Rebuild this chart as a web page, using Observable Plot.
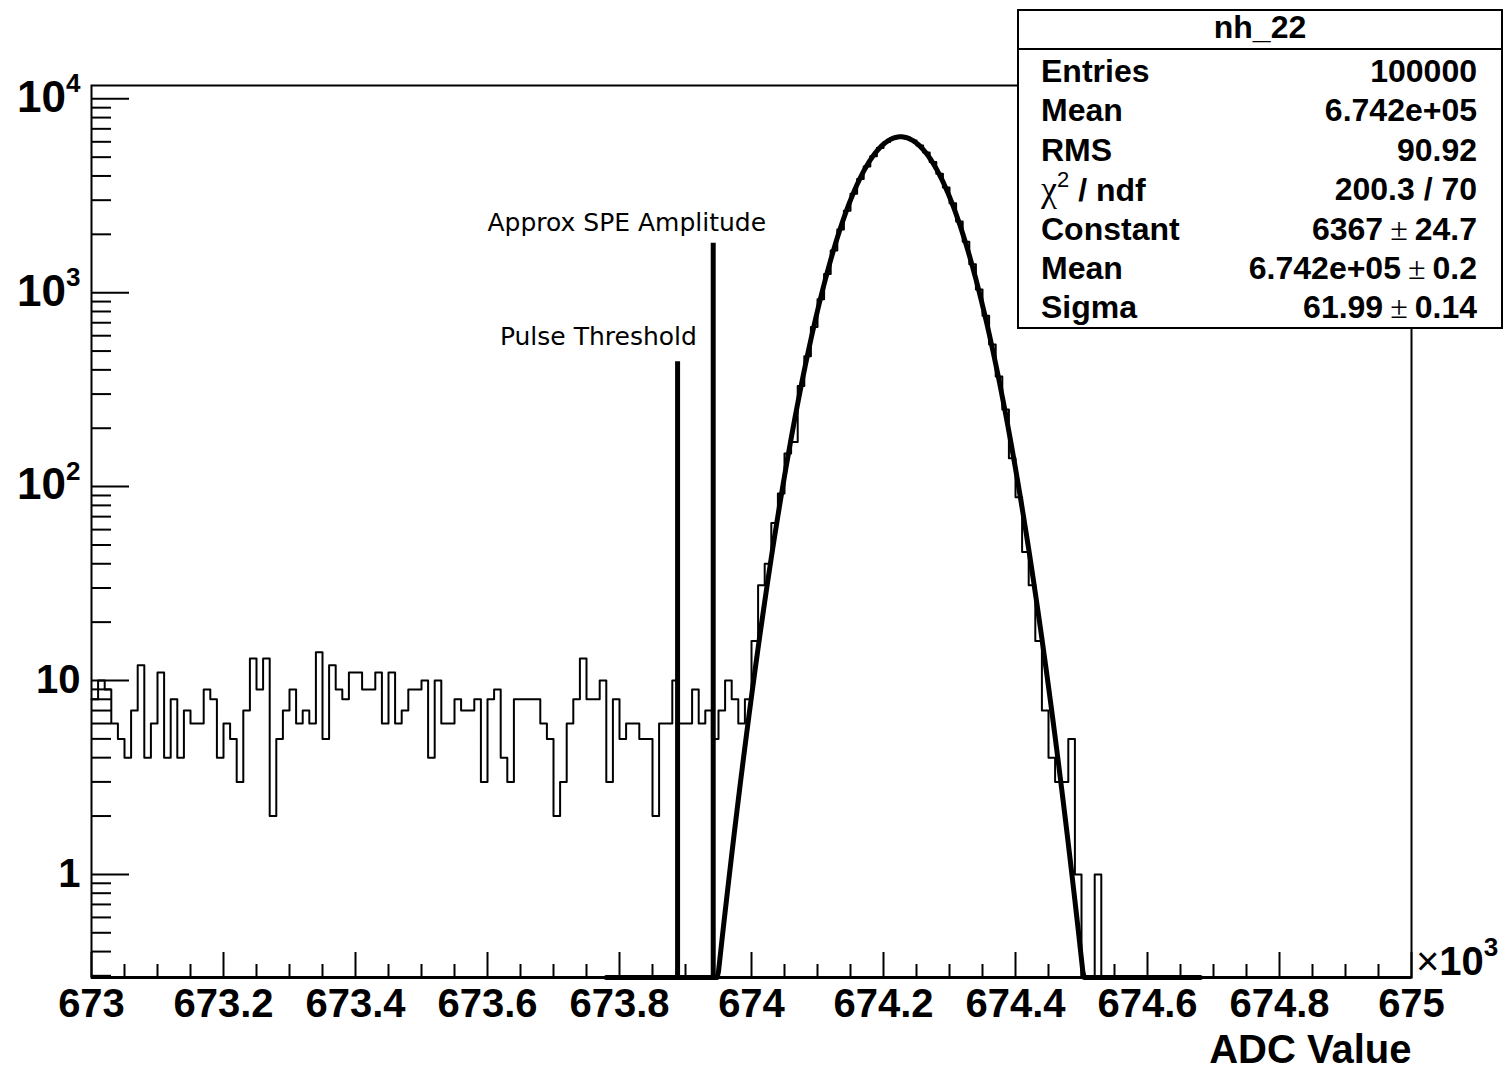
<!DOCTYPE html>
<html>
<head>
<meta charset="utf-8">
<script src="https://cdn.jsdelivr.net/npm/d3@7"></script>
<script src="https://cdn.jsdelivr.net/npm/@observablehq/plot@0.6"></script>
<style>
  body { margin: 0; background: #fff; }
  #wrap { position: relative; width: 1510px; height: 1070px; font-family: "Liberation Sans", Arial, sans-serif; }
  #stats { position: absolute; left: 1017px; top: 9px; width: 486px; height: 320px; box-sizing: border-box;
           border: 2px solid #000; background: #fff; font-weight: bold; font-size: 32px; color: #000; }
  #stats .title { position: absolute; left: 0; right: 0; top: -2px; line-height: 36px; text-align: center; }
  #stats .sep { position: absolute; left: 0; right: 0; top: 37px; height: 2px; background: #000; }
  #stats .rows { position: absolute; left: 22px; right: 24px; top: 41px; }
  #stats .row { display: flex; justify-content: space-between; height: 39.4px; line-height: 39.4px; white-space: nowrap; }
  #stats .pm { font-weight: normal; font-family: "Liberation Serif", serif; padding: 0 7px; }
  #stats .chi { font-weight: normal; font-family: "Liberation Serif", serif; font-size: 36px; }
  #stats sup { font-size: 22px; font-weight: normal; vertical-align: 0; position: relative; top: -14px; }
</style>
</head>
<body>
<div id="wrap"></div>
<script>
// ---------------- data ----------------
const binStart = 673000;   // ADC
const binWidth = 10;       // ADC
const counts = [
  8, 10, 9, 6, 5, 4, 7, 12, 4, 6,
  11, 4, 8, 4, 7, 6, 6, 9, 8, 4,
  6, 5, 3, 7, 13, 9, 13, 2, 5, 7,
  9, 6, 7, 6, 14, 5, 12, 9, 8, 11,
  11, 9, 9, 11, 6, 11, 6, 7, 9, 9,
  10, 4, 10, 6, 6, 8, 7, 7, 8, 3,
  8, 9, 4, 3, 8, 8, 8, 8, 6, 5,
  2, 3, 6, 8, 13, 8, 8, 10, 3, 8,
  5, 6, 6, 5, 5, 2, 6, 6, 10, 6,
  6, 9, 6, 7, 5, 7, 10, 8, 6, 8,
  16, 31, 40, 65, 92, 148, 170, 330, 470, 665,
  925, 1250, 1650, 2120, 2650, 3240, 3860, 4480, 5060, 5570,
  5980, 6250, 6360, 6310, 6100, 5750, 5280, 4720, 4110, 3490,
  2890, 2330, 1830, 1400, 1040, 760, 540, 370, 250, 140,
  88, 46, 31, 16, 7, 4, 3, 3, 5, 1,
  0, 0, 1, 0, 0, 0, 0, 0, 0, 0,
  0, 0, 0, 0, 0, 0, 0, 0, 0, 0,
  0, 0, 0, 0, 0, 0, 0, 0, 0, 0,
  0, 0, 0, 0, 0, 0, 0, 0, 0, 0,
  0, 0, 0, 0, 0, 0, 0, 0, 0, 0
];

// Gaussian fit (parameters as in the stats box)
const fitConstant = 6367;
const fitMean = 674226;
const fitSigma = 61.99;
const fitRange = [673780, 674680];

// vertical marker lines and their labels
const markerNames = ["Pulse Threshold", "Approx SPE Amplitude"];
const markerX = [673888, 673942];
const markerTop = [440, 1800];
const markerLabelX = [673768, 673811];
const markerLabelY = [594, 2300];

// axes
const xDomain = [673000, 675000];
const yDomain = [0.294, 11710];
const xTicks = [673000, 673200, 673400, 673600, 673800, 674000, 674200, 674400, 674600, 674800, 675000];
const xTickLabels = ["673", "673.2", "673.4", "673.6", "673.8", "674", "674.2", "674.4", "674.6", "674.8", "675"];
const yTicks = [1, 10, 100, 1000, 10000];
const yTickLabels = ["1", "10", "10^2", "10^3", "10^4"];
const xTitle = "ADC Value";
const xExponent = "3";

const statsTitle = "nh_22";
const statsNames = ["Entries", "Mean", "RMS", "CHI", "Constant", "Mean", "Sigma"];
const statsValues = ["100000", "6.742e+05", "90.92", "200.3 / 70", "6367|24.7", "6.742e+05|0.2", "61.99|0.14"];

// ---------------- derived tables ----------------
const hist = counts.map((c, i) => ({x: binStart + i * binWidth, count: c}));
hist.push({x: binStart + counts.length * binWidth, count: counts[counts.length - 1]});

const fitPts = d3.range(fitRange[0], fitRange[1] + 0.001, 2).map(x => ({
  x, y: fitConstant * Math.exp(-0.5 * ((x - fitMean) / fitSigma) ** 2)
}));

const markers = markerNames.map((name, i) => ({
  name, x: markerX[i], top: markerTop[i], lx: markerLabelX[i], ly: markerLabelY[i]
}));

const xMinor = d3.range(xDomain[0], xDomain[1] + 1, 50).filter(v => !xTicks.includes(v));
const yMinor = [];
for (const dec of [0.1, 1, 10, 100, 1000]) for (let k = 2; k <= 9; k++) {
  const v = dec * k;
  if (v >= yDomain[0] && v <= yDomain[1]) yMinor.push(v);
}

const yMin = yDomain[0];

const chart = Plot.plot({
  width: 1510,
  height: 1070,
  marginLeft: 91,
  marginRight: 99,
  marginTop: 85,
  marginBottom: 93,
  style: {fontFamily: "'Liberation Sans', Arial, sans-serif", background: "white", color: "black"},
  x: {domain: xDomain},
  y: {type: "log", domain: yDomain},
  marks: [
    Plot.line(hist, {x: "x", y: d => Math.max(d.count, yMin), curve: "step-after", stroke: "black", strokeWidth: 2}),
    Plot.line(fitPts, {x: "x", y: d => Math.max(d.y, yMin), stroke: "black", strokeWidth: 5}),
    Plot.ruleX(markers, {x: "x", y1: yMin, y2: "top", stroke: "black", strokeWidth: 5}),
    Plot.text(markers, {x: "lx", y: "ly", text: "name", fontFamily: "'DejaVu Sans', sans-serif", fontSize: 25, fill: "black"}),
    Plot.frame({stroke: "black", strokeWidth: 2}),
    Plot.axisX(xMinor, {tickSize: -13, fill: "none", label: null, strokeWidth: 2}),
    Plot.axisX(xTicks, {tickSize: -25, fill: "none", label: null, strokeWidth: 2}),
    Plot.ruleY([yMin], {stroke: "black", strokeWidth: 3}),
    Plot.axisX(xTicks, {tickSize: 0, tickPadding: 11, tickFormat: d => xTickLabels[xTicks.indexOf(d)],
                        fontSize: 40, fontWeight: "bold", label: null}),
    Plot.axisY(yMinor, {tickSize: -20, fill: "none", label: null, strokeWidth: 2}),
    Plot.axisY(yTicks, {tickSize: -38, fill: "none", label: null, strokeWidth: 2}),
    Plot.axisY(yTicks, {tickSize: 0, tickPadding: 11, tickFormat: d => yTickLabels[yTicks.indexOf(d)],
                        fontSize: 40, fontWeight: "bold", label: null}),
    Plot.text([xTitle], {text: d => d, frameAnchor: "bottom-right", textAnchor: "end", lineAnchor: "bottom",
                         dy: 85, fontSize: 40, fontWeight: "bold", fill: "black"})
  ]
});

document.getElementById("wrap").appendChild(chart);

// superscripts on y labels
const svg = d3.select(chart);
svg.selectAll("text").each(function() {
  const el = d3.select(this);
  const s = el.text();
  if (/^10\^\d$/.test(s)) {
    const [base, exp] = s.split("^");
    el.text("");
    el.append("tspan").attr("font-size", 44).text(base);
    el.append("tspan").attr("font-size", 26).attr("dy", "-0.75em").text(exp);
  }
});

// x10^3 multiplier
const xs = chart.scale("x");
const ys = chart.scale("y");
const mx = xs.apply(xDomain[1]) + 5;
const my = ys.apply(yDomain[0]) - 2;
const mt = svg.append("text").attr("x", mx).attr("y", my).attr("font-size", 40).attr("fill", "black")
  .attr("text-anchor", "start")
  .attr("font-family", "'Liberation Sans', Arial, sans-serif");
mt.append("tspan").attr("font-weight", "normal").text("×");
mt.append("tspan").attr("font-weight", "bold").text("10");
mt.append("tspan").attr("font-weight", "bold").attr("font-size", 26).attr("dy", -19).text(xExponent);

// stats box
const box = document.createElement("div");
box.id = "stats";
let html = `<div class="title">${statsTitle}</div><div class="sep"></div><div class="rows">`;
statsNames.forEach((n, i) => {
  const name = n === "CHI" ? `<span><span class="chi">χ</span><sup>2</sup> / ndf</span>` : `<span>${n}</span>`;
  const parts = statsValues[i].split("|");
  const val = parts.length === 2 ? `<span>${parts[0]}<span class="pm">±</span>${parts[1]}</span>` : `<span>${parts[0]}</span>`;
  html += `<div class="row">${name}${val}</div>`;
});
html += `</div>`;
box.innerHTML = html;
document.getElementById("wrap").appendChild(box);
</script>
</body>
</html>
